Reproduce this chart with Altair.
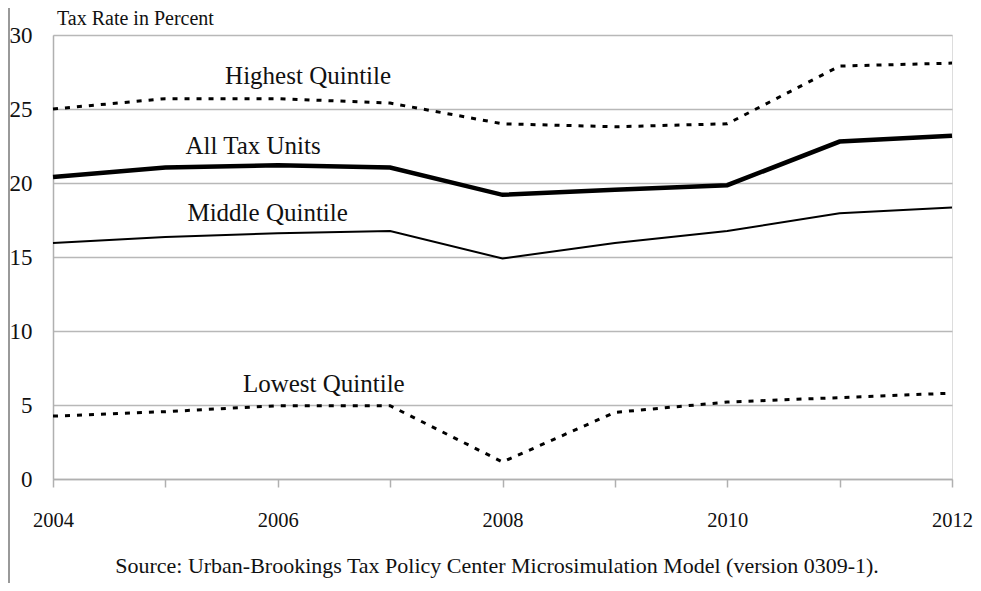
import altair as alt
import pandas as pd

years = [2004, 2005, 2006, 2007, 2008, 2009, 2010, 2011, 2012]
highest = [25.0, 25.7, 25.7, 25.4, 24.0, 23.8, 24.0, 27.9, 28.1]
all_units = [20.4, 21.05, 21.2, 21.05, 19.2, 19.55, 19.85, 22.8, 23.2]
middle = [15.95, 16.35, 16.6, 16.75, 14.9, 15.95, 16.75, 17.95, 18.35]
lowest = [4.25, 4.55, 4.95, 4.95, 1.15, 4.5, 5.2, 5.5, 5.8]

label_names = ["Highest Quintile", "All Tax Units", "Middle Quintile", "Lowest Quintile"]
label_x = [2006.27, 2005.78, 2005.91, 2006.41]
label_y = [27.2, 22.5, 17.96, 6.45]

rows = []
for name, vals in [("Highest", highest), ("All", all_units), ("Middle", middle), ("Lowest", lowest)]:
    for yr, v in zip(years, vals):
        rows.append({"year": yr, "rate": v, "series": name})
df = pd.DataFrame(rows)
lab = pd.DataFrame({"name": label_names, "x": label_x, "y": label_y})

FONT = "Liberation Serif"
W, H = 899, 444

xscale = alt.Scale(domain=[2004, 2012], nice=False, zero=False)
yscale = alt.Scale(domain=[0, 30], nice=False)

xaxis = alt.Axis(values=years, format="d",
                 labelExpr="datum.value % 2 == 0 ? datum.label : ''",
                 labelFlush=False, labelOverlap=False,
                 grid=False, domainColor="#b0b0b0", domainWidth=1.5,
                 tickColor="#b0b0b0", tickWidth=1.5, tickSize=8,
                 labelFont=FONT, labelFontSize=20.5, labelColor="#111",
                 labelPadding=23, title=None)
yaxis = alt.Axis(values=[0, 5, 10, 15, 20, 25, 30], grid=True, gridColor="#b8b8b8",
                 labelFlush=False, labelOverlap=False,
                 gridWidth=1.5, domainColor="#b0b0b0", domainWidth=1.5, ticks=False,
                 labelFont=FONT, labelFontSize=23, labelColor="#111",
                 labelPadding=21, title=None)

base = alt.Chart(df)

def line(series, width, dash=None):
    kw = dict(color="black", strokeWidth=width, clip=False)
    if dash:
        kw["strokeDash"] = dash
    return base.transform_filter(alt.datum.series == series).mark_line(**kw).encode(
        x=alt.X("year:Q", scale=xscale, axis=xaxis),
        y=alt.Y("rate:Q", scale=yscale, axis=yaxis),
    )

lines = (line("Highest", 3, [5, 7]) + line("All", 4.5) + line("Middle", 2)
         + line("Lowest", 3, [5, 7]))

labels = alt.Chart(lab).mark_text(font=FONT, fontSize=25, color="#111",
                                  baseline="middle", align="center").encode(
    x=alt.X("x:Q", scale=xscale), y=alt.Y("y:Q", scale=yscale), text="name:N")

ytitle = alt.Chart(pd.DataFrame({"t": ["Tax Rate in Percent"]})).mark_text(
    font=FONT, fontSize=20, color="#111", align="left", baseline="alphabetic").encode(
    x=alt.value(4), y=alt.value(-10), text="t:N")

source = alt.Chart(pd.DataFrame({"t": ["Source: Urban-Brookings Tax Policy Center Microsimulation Model (version 0309-1)."]})).mark_text(
    font=FONT, fontSize=22, color="#111", align="center", baseline="middle").encode(
    x=alt.value(444), y=alt.value(531), text="t:N")

border = alt.Chart(pd.DataFrame({"a": [0]})).mark_rule(color="#999", strokeWidth=2).encode(
    x=alt.value(-44), y=alt.value(-27), y2=alt.value(560))

chart = alt.layer(lines, labels, ytitle, source, border).properties(
    width=W, height=H,
    autosize=alt.AutoSizeParams(type="none"),
    padding={"left": 45, "top": 27, "right": 21, "bottom": 104},
).configure_view(stroke=None).configure(background="white")

chart.save("out.html", embed_options={"renderer": "svg", "actions": False})
